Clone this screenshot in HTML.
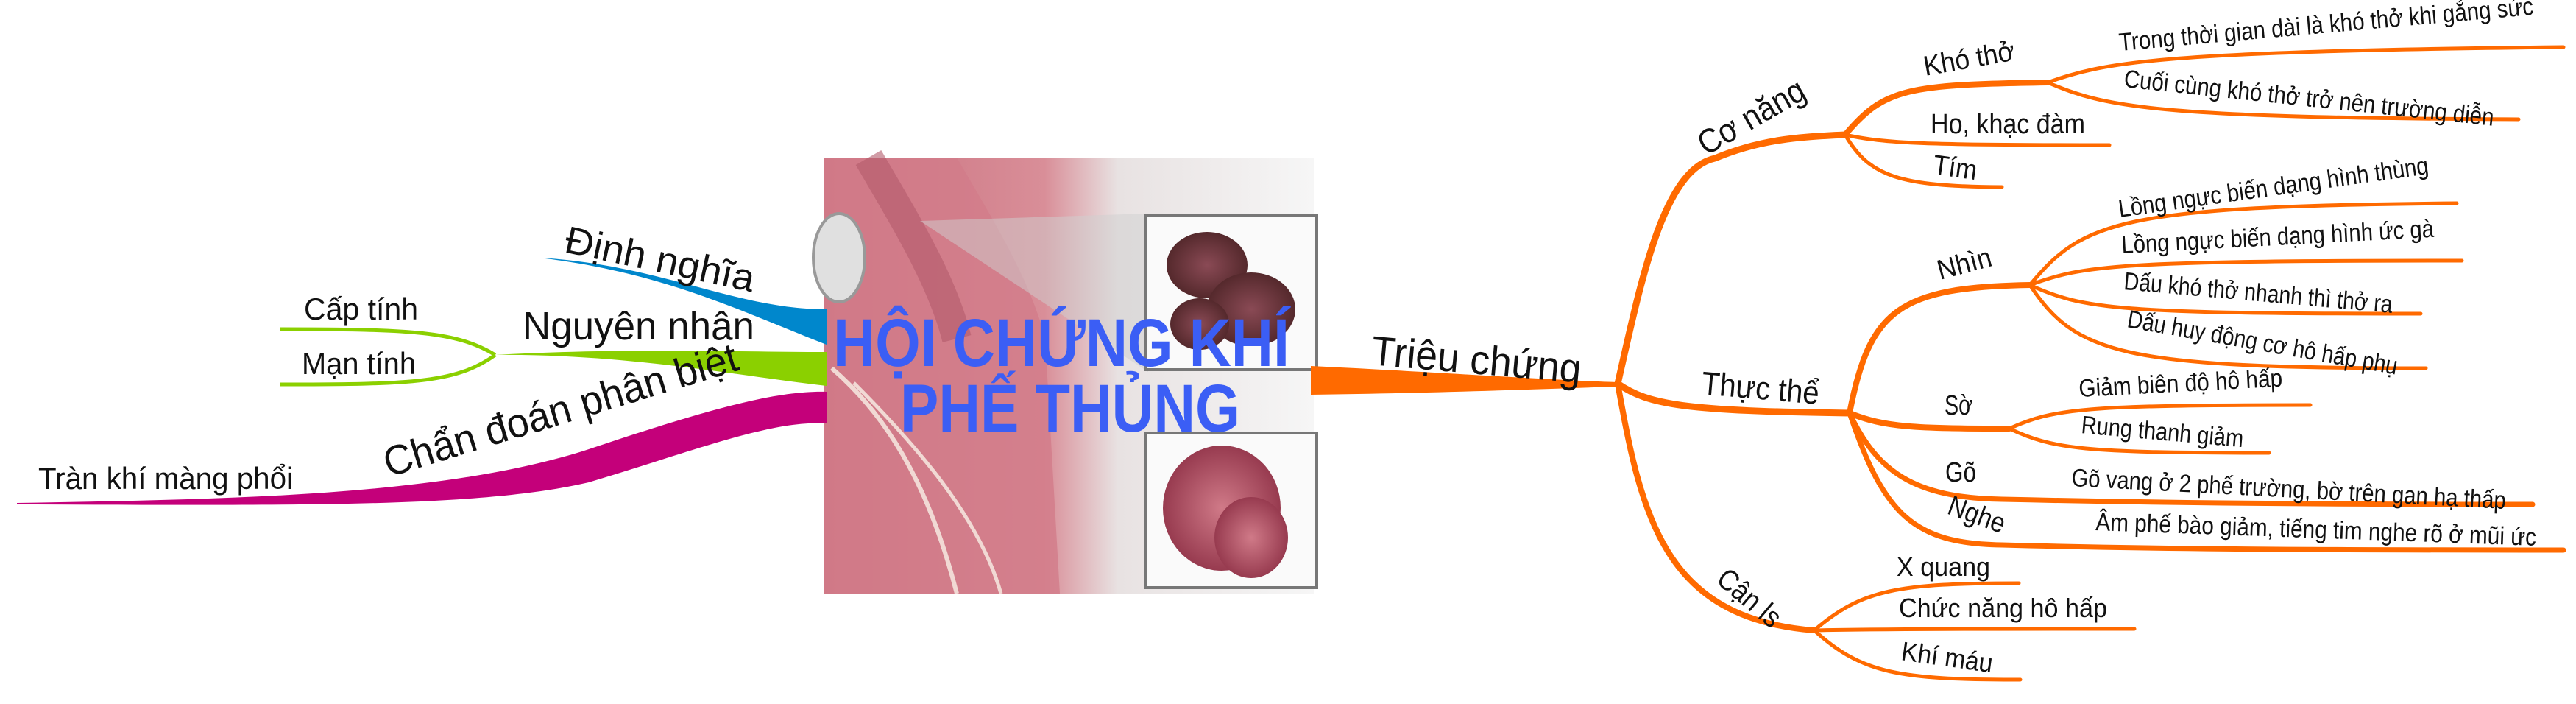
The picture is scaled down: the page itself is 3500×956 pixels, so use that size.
<!DOCTYPE html>
<html><head><meta charset="utf-8"><style>
html,body{margin:0;padding:0;background:#fff;}
svg{display:block;}
text{font-family:"Liberation Sans Narrow","Liberation Sans",sans-serif;fill:#111;}
</style></head><body>
<svg width="3500" height="956" viewBox="0 0 3500 956">
<defs>
<linearGradient id="lung" x1="0" y1="0" x2="1" y2="0">
<stop offset="0" stop-color="#c9707e"/><stop offset="0.45" stop-color="#d98e98"/><stop offset="0.6" stop-color="#e8e2e2"/><stop offset="1" stop-color="#f6f6f6"/>
</linearGradient>
<radialGradient id="alv1" cx="0.5" cy="0.5" r="0.6"><stop offset="0" stop-color="#8a4a55"/><stop offset="1" stop-color="#4a2224"/></radialGradient>
<radialGradient id="alv2" cx="0.5" cy="0.5" r="0.6"><stop offset="0" stop-color="#d07a88"/><stop offset="1" stop-color="#8c2e44"/></radialGradient>
</defs>

<g>
<rect x="1120" y="214" width="665" height="592" fill="url(#lung)"/>
<path d="M1120,214 L1300,214 C1350,300 1400,380 1420,460 L1440,806 L1120,806 Z" fill="#d27c8a" opacity="0.8"/>
<path d="M1180,214 C1230,300 1280,380 1300,460" stroke="#b35a6a" stroke-width="40" fill="none" opacity="0.6"/>
<ellipse cx="1140" cy="350" rx="35" ry="60" fill="#e0e0e0" stroke="#999" stroke-width="4"/>
<path d="M1130,500 C1200,560 1260,650 1300,806" stroke="#f1d9d4" stroke-width="6" fill="none"/>
<path d="M1160,520 C1240,600 1330,700 1360,806" stroke="#f1d9d4" stroke-width="5" fill="none"/>
<path d="M1250,300 L1560,290 L1560,505 Z" fill="#cfcfcf" opacity="0.5"/>
<rect x="1556" y="292" width="233" height="210" fill="#fafafa" stroke="#777" stroke-width="4"/>
<ellipse cx="1640" cy="360" rx="55" ry="45" fill="url(#alv1)"/>
<ellipse cx="1700" cy="420" rx="60" ry="50" fill="url(#alv1)"/>
<ellipse cx="1630" cy="440" rx="40" ry="35" fill="url(#alv1)"/>
<rect x="1556" y="588" width="233" height="210" fill="#fafafa" stroke="#777" stroke-width="4"/>
<ellipse cx="1660" cy="690" rx="80" ry="85" fill="url(#alv2)"/>
<ellipse cx="1700" cy="730" rx="50" ry="55" fill="url(#alv2)"/>
</g>
<g>
<text x="1442" y="497" text-anchor="middle" font-weight="bold" font-size="92" textLength="620" lengthAdjust="spacingAndGlyphs" style="fill:#3b5ef5;font-family:'Liberation Sans',sans-serif">HỘI CHỨNG KHÍ</text>
<text x="1454" y="586" text-anchor="middle" font-weight="bold" font-size="92" textLength="462" lengthAdjust="spacingAndGlyphs" style="fill:#3b5ef5;font-family:'Liberation Sans',sans-serif">PHẾ THỦNG</text>
</g>

<path d="M733,350 C900,360 1000,420 1123,420 L1123,468 C1000,420 900,370 733,350 Z" fill="#0087cc"/>
<path d="M673,482 C850,472 1000,478 1123,478 L1123,524 C1000,510 850,480 673,482 Z" fill="#8bd000"/>
<path d="M673,482 C620,450 560,447 381,447" stroke="#8bd000" stroke-width="5" fill="none"/>
<path d="M673,482 C620,520 560,522 381,522" stroke="#8bd000" stroke-width="5" fill="none"/>
<path d="M23,683 C300,678 600,675 800,610 C950,560 1050,530 1123,532 L1123,575 C1050,570 950,610 800,655 C650,690 400,686 23,685 Z" fill="#c4007a"/>
<text x="765" y="342" font-size="52" transform="rotate(12 765 342)" textLength="262" lengthAdjust="spacingAndGlyphs">Định nghĩa</text>
<text x="710" y="461" font-size="54" textLength="315" lengthAdjust="spacingAndGlyphs">Nguyên nhân</text>
<text x="413" y="434" font-size="42" textLength="155" lengthAdjust="spacingAndGlyphs">Cấp tính</text>
<text x="410" y="508" font-size="42" textLength="155" lengthAdjust="spacingAndGlyphs">Mạn tính</text>
<text x="528" y="648" font-size="56" transform="rotate(-17 528 648)" textLength="500" lengthAdjust="spacingAndGlyphs">Chẩn đoán phân biệt</text>
<text x="52" y="664" font-size="42" textLength="346" lengthAdjust="spacingAndGlyphs">Tràn khí màng phổi</text>

<g fill="none" stroke="#ff6a00" stroke-linecap="round">
<path d="M1781,497 C1950,505 2100,516 2198,519 L2198,525 C2100,528 1950,534 1781,536 Z" fill="#ff6a00" stroke="none"/>
<path d="M2198,521 C2230,380 2260,230 2330,215 C2390,190 2440,186 2507,183" stroke-width="9"/>
<path d="M2507,183 C2560,120 2590,115 2782,112" stroke-width="8"/>
<path d="M2782,112 C2860,85 2920,70 3483,64" stroke-width="5"/>
<path d="M2782,112 C2860,145 2920,160 3422,162" stroke-width="5"/>
<path d="M2507,183 C2560,195 2620,197 2866,197" stroke-width="5"/>
<path d="M2507,183 C2540,240 2580,253 2720,254" stroke-width="5"/>
<path d="M2198,521 C2240,550 2290,558 2513,561" stroke-width="9"/>
<path d="M2513,561 C2540,420 2580,390 2758,387" stroke-width="8"/>
<path d="M2758,387 C2830,300 2880,280 3338,276" stroke-width="5"/>
<path d="M2758,387 C2830,360 2880,354 3345,354" stroke-width="5"/>
<path d="M2758,387 C2830,420 2880,426 3289,426" stroke-width="5"/>
<path d="M2758,387 C2820,480 2880,500 3296,500" stroke-width="5"/>
<path d="M2513,561 C2560,580 2600,582 2730,582" stroke-width="8"/>
<path d="M2730,582 C2790,555 2830,550 3139,550" stroke-width="5"/>
<path d="M2730,582 C2790,610 2830,615 3083,615" stroke-width="5"/>
<path d="M2513,561 C2550,640 2600,676 2720,678 C2900,682 3100,685 3441,685" stroke-width="7"/>
<path d="M2513,561 C2560,700 2600,738 2720,740 C2900,745 3100,747 3483,747" stroke-width="7"/>
<path d="M2198,521 C2230,700 2260,840 2465,856" stroke-width="8"/>
<path d="M2465,856 C2530,800 2580,792 2743,792" stroke-width="5"/>
<path d="M2465,856 C2560,854 2700,854 2900,854" stroke-width="5"/>
<path d="M2465,856 C2530,915 2580,923 2745,923" stroke-width="5"/>
</g>

<text x="1862" y="495" font-size="56" transform="rotate(5 1862 495)" textLength="286" lengthAdjust="spacingAndGlyphs">Triệu chứng</text>
<text x="2318" y="212" font-size="46" transform="rotate(-30 2318 212)" textLength="160" lengthAdjust="spacingAndGlyphs">Cơ năng</text>
<text x="2616" y="103" font-size="38" transform="rotate(-10 2616 103)" textLength="125" lengthAdjust="spacingAndGlyphs">Khó thở</text>
<text x="2880" y="69" font-size="34" transform="rotate(-5 2880 69)" textLength="565" lengthAdjust="spacingAndGlyphs">Trong thời gian dài là khó thở khi gắng sức</text>
<text x="2885" y="118" font-size="34" transform="rotate(6 2885 118)" textLength="505" lengthAdjust="spacingAndGlyphs">Cuối cùng khó thở trở nên trường diễn</text>
<text x="2623" y="181" font-size="38" textLength="210" lengthAdjust="spacingAndGlyphs">Ho, khạc đàm</text>
<text x="2625" y="236" font-size="38" transform="rotate(8 2625 236)" textLength="60" lengthAdjust="spacingAndGlyphs">Tím</text>
<text x="2636" y="380" font-size="38" transform="rotate(-15 2636 380)" textLength="75" lengthAdjust="spacingAndGlyphs">Nhìn</text>
<text x="2880" y="295" font-size="34" transform="rotate(-8 2880 295)" textLength="425" lengthAdjust="spacingAndGlyphs">Lồng ngực biến dạng hình thùng</text>
<text x="2883" y="344" font-size="34" transform="rotate(-3 2883 344)" textLength="425" lengthAdjust="spacingAndGlyphs">Lồng ngực biến dạng hình ức gà</text>
<text x="2885" y="393" font-size="34" transform="rotate(5 2885 393)" textLength="366" lengthAdjust="spacingAndGlyphs">Dấu khó thở nhanh thì thở ra</text>
<text x="2889" y="444" font-size="34" transform="rotate(10 2889 444)" textLength="372" lengthAdjust="spacingAndGlyphs">Dấu huy động cơ hô hấp phụ</text>
<text x="2311" y="535" font-size="44" transform="rotate(5 2311 535)" textLength="160" lengthAdjust="spacingAndGlyphs">Thực thể</text>
<text x="2642" y="563" font-size="38" textLength="38" lengthAdjust="spacingAndGlyphs">Sờ</text>
<text x="2825" y="539" font-size="34" transform="rotate(-3 2825 539)" textLength="277" lengthAdjust="spacingAndGlyphs">Giảm biên độ hô hấp</text>
<text x="2827" y="588" font-size="34" transform="rotate(5 2827 588)" textLength="221" lengthAdjust="spacingAndGlyphs">Rung thanh giảm</text>
<text x="2643" y="654" font-size="38" textLength="42" lengthAdjust="spacingAndGlyphs">Gõ</text>
<text x="2814" y="660" font-size="34" transform="rotate(3 2814 660)" textLength="591" lengthAdjust="spacingAndGlyphs">Gõ vang ở 2 phế trường, bờ trên gan hạ thấp</text>
<text x="2644" y="697" font-size="38" transform="rotate(20 2644 697)" textLength="80" lengthAdjust="spacingAndGlyphs">Nghe</text>
<text x="2847" y="720" font-size="34" transform="rotate(2 2847 720)" textLength="599" lengthAdjust="spacingAndGlyphs">Âm phế bào giảm, tiếng tim nghe rõ ở mũi ức</text>
<text x="2330" y="790" font-size="40" transform="rotate(40 2330 790)" textLength="100" lengthAdjust="spacingAndGlyphs">Cận ls</text>
<text x="2577" y="782" font-size="36" textLength="127" lengthAdjust="spacingAndGlyphs">X quang</text>
<text x="2580" y="838" font-size="36" textLength="283" lengthAdjust="spacingAndGlyphs">Chức năng hô hấp</text>
<text x="2582" y="896" font-size="36" transform="rotate(8 2582 896)" textLength="125" lengthAdjust="spacingAndGlyphs">Khí máu</text>
</svg>
</body></html>
